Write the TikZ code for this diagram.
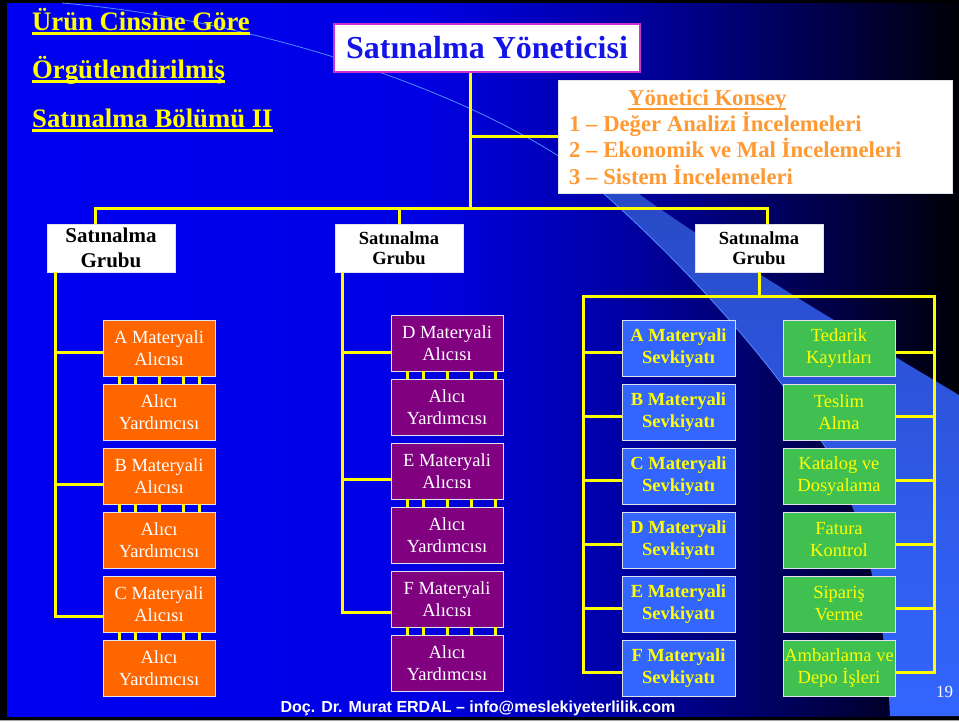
\documentclass[tikz,border=0pt]{standalone}
\usepackage{fontspec}
\setmainfont{Liberation Serif}
\newfontfamily\footfont{Liberation Sans}
% text with a thick underline in the current colour: #1 depth, #2 thickness, #3 text
\newcommand\barunder[3]{\setbox0\hbox{#3}\rlap{\rule[#1]{\wd0}{#2}}\box0}

\definecolor{slideyellow}{RGB}{255,255,0}
\definecolor{mgrblue}{RGB}{20,20,230}
\definecolor{mgrframe}{RGB}{204,51,204}
\definecolor{konsey}{RGB}{255,153,51}
\definecolor{buyorange}{RGB}{255,102,0}
\definecolor{buypurple}{RGB}{128,0,128}
\definecolor{shipblue}{RGB}{51,102,255}
\definecolor{officegreen}{RGB}{64,192,80}
\definecolor{bgA}{RGB}{0,0,242}
\definecolor{bgB}{RGB}{0,0,228}
\definecolor{bgC}{RGB}{0,0,165}
\definecolor{bgD}{RGB}{0,0,85}
\definecolor{bgE}{RGB}{0,0,8}
\definecolor{swoosh}{RGB}{80,140,255}
\definecolor{bandtop}{RGB}{40,72,195}
\definecolor{frameline}{RGB}{225,225,235}

\begin{document}
\begin{tikzpicture}[x=1pt,y=-1pt,
  link/.style={draw=slideyellow,line width=3pt},
  title/.style={inner sep=0pt,text=slideyellow,font=\bfseries\fontsize{26.7}{30}\selectfont},
  kline/.style={inner sep=0pt,text=konsey,anchor=base west,font=\bfseries\fontsize{22.7}{26}\selectfont},
  box/.style={draw=frameline,line width=0.8pt,minimum width=112pt,minimum height=56pt,
    inner sep=0pt,align=center,font=\fontsize{18.5}{22}\selectfont},
  buyer/.style={box,fill=buyorange,text=white},
  buyerB/.style={box,fill=buypurple,text=white},
  ship/.style={box,fill=shipblue,text=slideyellow,minimum width=113pt,
    font=\bfseries\fontsize{18.5}{22}\selectfont},
  office/.style={box,fill=officegreen,text=slideyellow},
  groupbox/.style={fill=white,draw=frameline,line width=0.8pt,minimum width=128pt,
    minimum height=48pt,inner sep=0pt,align=center,text=black}
]
\useasboundingbox (0,0) rectangle (959,721);

% slide background: dark frame and blue-to-black horizontal gradient
\fill[black] (0,0) rectangle (959,721);
\fill[left color=bgA,right color=bgB] (7,3) rectangle (421,716);
\fill[left color=bgB,right color=bgC] (420,3) rectangle (621,716);
\fill[left color=bgC,right color=bgD] (620,3) rectangle (801,716);
\fill[left color=bgD,right color=bgE] (800,3) rectangle (959,716);
\fill[gray!70] (0,719.5) rectangle (959,721);

% light band sweeping down to the lower right corner
\shade[top color=bandtop,middle color=shipblue,bottom color=shipblue]
  (560,157) .. controls (640,220) and (760,340) .. (827,450)
  .. controls (860,510) and (885,600) .. (890,716) -- (959,716) -- (959,395)
  .. controls (850,330) and (680,230) .. (590,157) -- cycle;
\draw[swoosh,line width=0.8pt] (62,3) .. controls (240,18) and (440,80) .. (560,157)
  .. controls (640,220) and (760,340) .. (827,450);

% heading
\node[title,anchor=base west] (t1) at (32,30) {\barunder{-5pt}{3pt}{Ürün Cinsine Göre}};
\node[title,anchor=base west] (t2) at (32,78) {\barunder{-5pt}{3pt}{Örgütlendirilmiş}};
\node[title,anchor=base west] (t3) at (32,127) {\barunder{-5pt}{3pt}{Satınalma Bölümü II}};

% manager and council
\node[fill=white,draw=mgrframe,line width=1.2pt,minimum width=306pt,minimum height=48pt,
  inner sep=0pt,text=mgrblue,font=\bfseries\fontsize{32}{36}\selectfont] (mgr) at (487,48)
  {Satınalma Yöneticisi};
\node[fill=white,draw=frameline,line width=0.6pt,minimum width=394pt,minimum height=113pt,
  inner sep=0pt,anchor=north west] (konsey) at (558,80) {};
\node[kline] (k0) at (628,105) {\barunder{-4.5pt}{1.8pt}{Yönetici Konsey}};
\node[kline] (k1) at (569,131) {1 – Değer Analizi İncelemeleri};
\node[kline] (k2) at (569,157.5) {2 – Ekonomik ve Mal İncelemeleri};
\node[kline] (k3) at (569,184) {3 – Sistem İncelemeleri};

% purchasing groups
\node[groupbox,font=\bfseries\fontsize{21}{25}\selectfont] (gL) at (111,248) {Satınalma\\Grubu};
\node[groupbox,font=\bfseries\fontsize{18.5}{20.5}\selectfont] (gM) at (399,248) {Satınalma\\Grubu};
\node[groupbox,font=\bfseries\fontsize{18.5}{20.5}\selectfont] (gR) at (759,248) {Satınalma\\Grubu};

% first group: buyers A-C and their assistants
\node[buyer] (oA)  at (159,348) {A Materyali\\Alıcısı};
\node[buyer] (oA2) at (159,412) {Alıcı\\Yardımcısı};
\node[buyer] (oB)  at (159,476) {B Materyali\\Alıcısı};
\node[buyer] (oB2) at (159,540) {Alıcı\\Yardımcısı};
\node[buyer] (oC)  at (159,604) {C Materyali\\Alıcısı};
\node[buyer] (oC2) at (159,668) {Alıcı\\Yardımcısı};

% second group: buyers D-F and their assistants
\node[buyerB] (pD)  at (447,343) {D Materyali\\Alıcısı};
\node[buyerB] (pD2) at (447,407) {Alıcı\\Yardımcısı};
\node[buyerB] (pE)  at (447,471) {E Materyali\\Alıcısı};
\node[buyerB] (pE2) at (447,535) {Alıcı\\Yardımcısı};
\node[buyerB] (pF)  at (447,599) {F Materyali\\Alıcısı};
\node[buyerB] (pF2) at (447,663) {Alıcı\\Yardımcısı};

% third group: shipping and office functions
\node[ship] (sA) at (678.5,348) {A Materyali\\Sevkiyatı};
\node[ship] (sB) at (678.5,412) {B Materyali\\Sevkiyatı};
\node[ship] (sC) at (678.5,476) {C Materyali\\Sevkiyatı};
\node[ship] (sD) at (678.5,540) {D Materyali\\Sevkiyatı};
\node[ship] (sE) at (678.5,604) {E Materyali\\Sevkiyatı};
\node[ship] (sF) at (678.5,668) {F Materyali\\Sevkiyatı};
\node[office] (fA) at (839,348) {Tedarik\\Kayıtları};
\node[office] (fB) at (839,412) {Teslim\\Alma};
\node[office] (fC) at (839,476) {Katalog ve\\Dosyalama};
\node[office] (fD) at (839,540) {Fatura\\Kontrol};
\node[office] (fE) at (839,604) {Sipariş\\Verme};
\node[office] (fF) at (839,668) {Ambarlama ve\\Depo İşleri};

% footer
\node[anchor=base,inner sep=0pt,text=white,font=\footfont\bfseries\fontsize{16}{18}\selectfont]
  (foot) at (478,712) {Doç. Dr. Murat ERDAL – info@meslekiyeterlilik.com};
\node[anchor=base west,inner sep=0pt,text=white,font=\fontsize{17}{18}\selectfont] (pg) at (936,697) {19};

% top level connectors
\coordinate (hub) at (470,208);
\coordinate (busL) at (95,208);
\coordinate (busR) at (767,208);
\draw[link] ([xshift=-17pt]mgr.south) -- (hub);
\draw[link] (konsey.west) -- (konsey.west -| hub);
\draw[link] ([xshift=-16pt]gL.north) -- (busL) -- (busR) -- ([xshift=8pt]gR.north);
\draw[link] (gM.north) -- (gM.north |- hub);

% first group spine
\coordinate (spL) at ([xshift=9pt]gL.south west);
\draw[link] (spL) |- ([yshift=-12pt]oC.west);
\draw[link] ([yshift=-4pt]oA.west) -- ([yshift=-4pt]oA.west -| spL);
\draw[link] ([yshift=-8pt]oB.west) -- ([yshift=-8pt]oB.west -| spL);
\foreach \p/\q in {oA/oA2,oB/oB2,oC/oC2}
  \foreach \dx in {-40,-24,0,24,40}
    \draw[link] ([xshift=\dx pt]\p.south) -- ([xshift=\dx pt]\q.north);

% second group spine
\coordinate (spM) at ([xshift=8pt]gM.south west);
\draw[link] (spM) |- ([yshift=-13pt]pF.west);
\draw[link] ([yshift=-9pt]pD.west) -- ([yshift=-9pt]pD.west -| spM);
\draw[link] ([yshift=-8pt]pE.west) -- ([yshift=-8pt]pE.west -| spM);
\foreach \p/\q in {pD/pD2,pE/pE2,pF/pF2}
  \foreach \dx in {-40,-24,0,24,48}
    \draw[link] ([xshift=\dx pt]\p.south) -- ([xshift=\dx pt]\q.north);

% third group: split bus with a spine on each side
\coordinate (rbL) at (583,296);
\coordinate (rbR) at (934,296);
\draw[link] (gR.south) -- (gR.south |- rbL);
\draw[link] ([yshift=-4pt]sF.west) -| (rbL) -- (rbR) |- ([yshift=-4pt]fF.east);
\foreach \n in {sA,sB,sC,sD,sE}
  \draw[link] ([yshift=-4pt]\n.west) -- ([yshift=-4pt]\n.west -| rbL);
\foreach \n in {fA,fB,fC,fD,fE}
  \draw[link] ([yshift=-4pt]\n.east) -- ([yshift=-4pt]\n.east -| rbR);
\end{tikzpicture}
\end{document}
